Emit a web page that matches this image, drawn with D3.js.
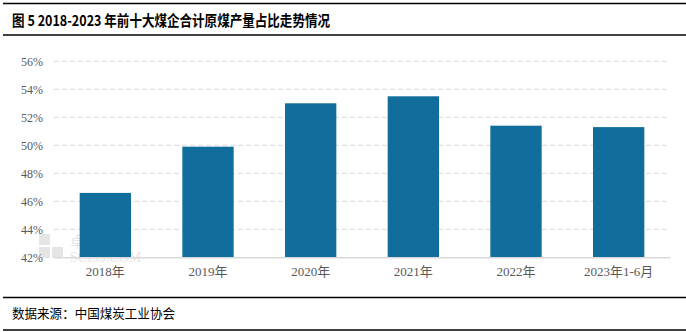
<!DOCTYPE html>
<html><head><meta charset="utf-8">
<script src="https://cdn.jsdelivr.net/npm/d3@7"></script>
<style>body{margin:0;background:#fff}svg{display:block}</style>
</head><body><svg id="c" width="686" height="332"></svg>
<script>
const categories = ["2018年","2019年","2020年","2021年","2022年","2023年1-6月"];
const values = [46.6, 49.9, 53.0, 53.5, 51.4, 51.3];
const yTicks = [42,44,46,48,50,52,54,56];
const titleText = "图 5 2018-2023 年前十大煤企合计原煤产量占比走势情况";
const sourceText = "数据来源：中国煤炭工业协会";

const svg = d3.select("#c");
const W = 686;
const x = d3.scaleBand().domain(categories).range([54, 670]).paddingInner(0.5).paddingOuter(0.25);
const y = d3.scaleLinear().domain([42, 56]).range([257.3, 61.3]);

// header / footer rules
[[3.5,1.5],[35,1.5],[297.5,1.5],[330,1.5]].forEach(([yy,w])=>{
  svg.append("line").attr("x1",3).attr("x2",W).attr("y1",yy).attr("y2",yy)
    .attr("stroke","#000").attr("stroke-width",w);
});
svg.append("text").attr("x",12).attr("y",26).text(titleText)
  .attr("font-family","'Noto Sans CJK SC', sans-serif").attr("font-weight","bold")
  .attr("font-size",15).attr("fill","#000")
  .attr("textLength",318).attr("lengthAdjust","spacingAndGlyphs");
svg.append("text").attr("x",12).attr("y",318).text(sourceText)
  .attr("font-family","'Noto Sans CJK SC', sans-serif")
  .attr("font-size",13).attr("fill","#000")
  .attr("textLength",163).attr("lengthAdjust","spacingAndGlyphs");

// grid
const grid = svg.append("g");
grid.selectAll("line").data(yTicks.filter(d=>d>42)).join("line")
  .attr("x1",54).attr("x2",670).attr("y1",d=>y(d)).attr("y2",d=>y(d))
  .attr("stroke","#d9d9d9").attr("stroke-dasharray","5,3");

// y axis
const yAxis = d3.axisLeft(y).tickValues(yTicks).tickFormat(d=>d+"%").tickSize(0).tickPadding(0);
const yg = svg.append("g").attr("transform","translate(43,0)").call(yAxis);
yg.select(".domain").remove();
yg.selectAll("text").attr("font-family","'Liberation Serif', serif").attr("font-size",12).attr("fill","#595959");

// watermark
const wm = svg.append("g").attr("opacity",0.25);
wm.append("rect").attr("x",39).attr("y",234).attr("width",11).attr("height",11).attr("fill","#999");
wm.append("rect").attr("x",39).attr("y",247).attr("width",11).attr("height",11).attr("fill","#999");
wm.append("rect").attr("x",52).attr("y",247).attr("width",11).attr("height",11).attr("fill","#999");
wm.append("text").attr("x",70).attr("y",247).text("卓创资讯").attr("font-family","'Noto Sans CJK SC'").attr("font-size",15).attr("fill","#999");
wm.append("text").attr("x",70).attr("y",262).text("SCI99.COM").attr("font-family","'Liberation Serif'").attr("font-size",14).attr("fill","#999");

// bars
svg.append("g").selectAll("rect").data(values).join("rect")
  .attr("x",(d,i)=>x(categories[i])).attr("width",x.bandwidth())
  .attr("y",d=>y(d)).attr("height",d=>y(42)-y(d)).attr("fill","#106d9c");

// x axis
const xAxis = d3.axisBottom(x).tickSize(0).tickPadding(9);
const xg = svg.append("g").attr("transform",`translate(0,${y(42)})`).call(xAxis);
xg.select(".domain").attr("stroke","#d9d9d9").attr("stroke-width",1.5);
xg.selectAll("text").attr("font-family","'Liberation Serif', 'Noto Sans CJK SC', serif").attr("font-size",13).attr("fill","#595959");
</script></body></html>
